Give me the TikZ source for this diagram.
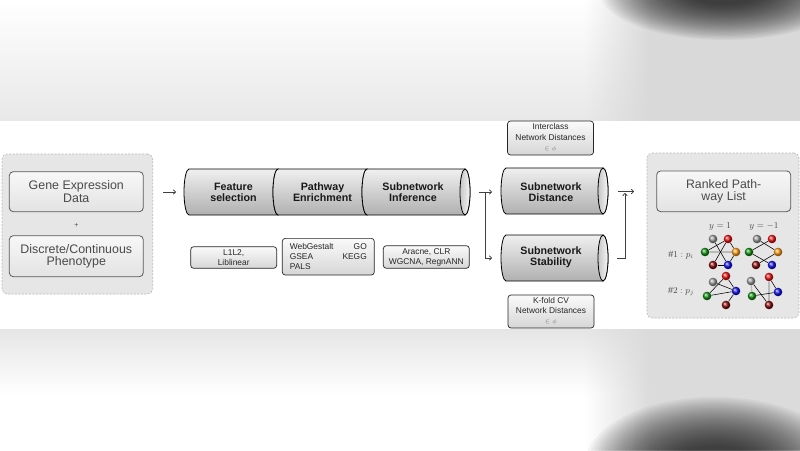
\documentclass[tikz,border=0pt]{standalone}
\usepackage{fontspec}
\setmainfont{Liberation Sans}
\usetikzlibrary{arrows.meta,fadings}
\definecolor{txtgray}{HTML}{4A4A4A}
\definecolor{panelfill}{HTML}{E6E6E6}
\definecolor{nred}{HTML}{F01010}
\definecolor{ngreen}{HTML}{109010}
\definecolor{norange}{HTML}{FF9A10}
\definecolor{ndred}{HTML}{8A0A0A}
\definecolor{nblue}{HTML}{1010F0}
\definecolor{ngray}{HTML}{9A9A9A}
\tikzfading[name=lrfade, left color=transparent!100, right color=transparent!0]
\pgfdeclarelayer{bg}
\pgfdeclarelayer{edgelayer}
\pgfsetlayers{bg,edgelayer,main}
\newcommand{\mycylseg}[3]{%
 \path[cylbody] (#1,#3-23) arc[start angle=270,end angle=90,x radius=5,y radius=23]
   -- (#2,#3+23) arc[start angle=90,end angle=270,x radius=5,y radius=23] -- cycle;}
\newcommand{\mycylend}[3]{%
 \path[cylbody] (#1,#3-23) arc[start angle=270,end angle=90,x radius=5,y radius=23]
   -- (#2,#3+23) arc[start angle=90,end angle=-90,x radius=5,y radius=23] -- cycle;
 \path[cylcap] (#2,#3) ellipse[x radius=5,y radius=23];}
\begin{document}
\begin{tikzpicture}[x=1pt,y=-1pt,
 panel/.style={draw=gray!55, dash pattern=on 2pt off 1.5pt, fill=panelfill, rounded corners=5pt, line width=0.6pt, inner sep=0pt},
 bigbox/.style={draw=black!65, line width=0.8pt, rounded corners=4pt, top color=gray!6, bottom color=gray!22, text=txtgray, align=center, inner sep=0pt},
 sbox/.style={draw=black!85, line width=0.7pt, rounded corners=3pt, top color=gray!4, bottom color=gray!32, text=black!85, align=center, inner sep=0pt, font=\fontsize{8.4}{10}\selectfont},
 cylbody/.style={draw=black, line width=0.8pt, top color=gray!12, bottom color=gray!62},
 cylcap/.style={draw=black, line width=0.8pt, left color=gray!45, right color=gray!6},
 cyltext/.style={font=\fontsize{10.7}{10.8}\selectfont\bfseries, text=black!90, align=center},
 arr/.style={draw=black!75, line width=0.75pt, -{To[length=3pt,width=5pt]}},
 gn/.style={circle, inner sep=0pt, minimum size=8.6pt, ball color=#1, font=\fontsize{3}{3}\selectfont, text=white!80!gray},
 ge/.style={draw=black, line width=0.55pt},
 gg/.style={draw=gray!55, line width=1.4pt},
 mathlbl/.style={text=txtgray, font=\fontsize{9}{9}\selectfont}
]
\useasboundingbox (0,0) rectangle (800,450);
\begin{pgfonlayer}{bg}
 \fill[white] (0,0) rectangle (800,450);
 % blurred bands
 \shade[top color=white, middle color=white, bottom color=gray!18] (0,0) rectangle (800,121);
 \fill[gray!30, path fading=lrfade] (585,0) rectangle (650,121);
 \fill[gray!30] (650,0) rectangle (800,121);
 \foreach \k in {0,...,27} {\fill[black, opacity=0.04] (725,-8) ellipse[x radius={125-3.25*\k}, y radius={48-1.3*\k}];}
 \shade[top color=gray!20, bottom color=white] (0,329) rectangle (800,395);
 \fill[gray!28, path fading=lrfade] (585,329) rectangle (650,450);
 \fill[gray!28] (650,329) rectangle (800,450);
 \foreach \k in {0,...,27} {\fill[black, opacity=0.04] (715,465) ellipse[x radius={130-3.25*\k}, y radius={68-1.8*\k}];}
 \fill[white] (0,121) rectangle (800,329);
 % panels
 \node[panel, minimum width=150.7pt, minimum height=140pt] (inpanel) at (77.35,224) {};
 \node[panel, minimum width=152pt, minimum height=165pt] (outpanel) at (723,235.5) {};
\end{pgfonlayer}

% input panel
\node[bigbox, minimum width=134pt, minimum height=40pt, font=\fontsize{12.4}{13.3}\selectfont] (gene) at (76.3,191.7) {Gene Expression\\Data};
\node[font=\fontsize{7}{7}\selectfont, text=txtgray] (plus) at (76.3,225.5) {+};
\node[bigbox, minimum width=134pt, minimum height=41pt, font=\fontsize{12.4}{11.6}\selectfont] (pheno) at (76.3,256.2) {Discrete/Continuous\\Phenotype};

% pipeline
\mycylseg{189}{278}{192}
\mycylseg{278}{367}{192}
\mycylend{367}{465}{192}
\node[cyltext] (fs) at (233.5,192) {Feature\\selection};
\node[cyltext] (pe) at (322.5,192) {Pathway\\Enrichment};
\node[cyltext] (si) at (413,192) {Subnetwork\\Inference};

\node[sbox, minimum width=86pt, minimum height=21.6pt] (l1) at (233.7,257.5) {L1L2,\\Liblinear};
\node[sbox, minimum width=92pt, minimum height=36.7pt, text width=77pt, align=left] (wg) at (328.3,256.7) {WebGestalt\hfill GO\\GSEA\hfill KEGG\\PALS};
\node[sbox, minimum width=86pt, minimum height=22.6pt] (ar) at (426.3,257) {Aracne, CLR\\WGCNA, RegnANN};

% evaluation cylinders
\mycylend{506}{603}{191}
\mycylend{506}{603}{258}
\node[cyltext] (sd) at (551,192) {Subnetwork\\Distance};
\node[cyltext] (ss) at (551,257) {Subnetwork\\Stability};

\node[sbox, minimum width=86pt, minimum height=34pt, font=\fontsize{8.4}{10.5}\selectfont] (ic) at (550.5,138) {Interclass\\Network Distances\\{\fontsize{6}{6}\selectfont\color{gray}$\in\phi$}};
\node[sbox, minimum width=86pt, minimum height=33pt, font=\fontsize{8.4}{10}\selectfont] (kf) at (551,311.5) {K-fold CV\\Network Distances\\{\fontsize{6}{6}\selectfont\color{gray}$\in\phi$}};

% connectors
\coordinate (a1s) at (163,192);
\coordinate (a1e) at (176,192);
\draw[arr] (a1s) -- (a1e);
\coordinate (m1) at (479,192);
\coordinate (mj) at (485,192);
\coordinate (m2) at (492,192);
\coordinate (m3) at (492,258);
\draw[arr] (m1) -- (m2);
\draw[arr] (mj) |- (m3);
\coordinate (r1) at (618,191.5);
\coordinate (r2) at (634,191.5);
\coordinate (r3) at (617,258);
\coordinate (r4) at (625,193);
\draw[arr] (r1) -- (r2);
\draw[arr] (r3) -| (r4);

% output panel
\node[bigbox, minimum width=134pt, minimum height=40.7pt, font=\fontsize{12.3}{11.6}\selectfont] (ranked) at (723.7,191.3) {Ranked Path-\\way List};
\node[mathlbl] (ly1) at (720,226) {$y=1$};
\node[mathlbl] (ly2) at (764,226) {$y=-1$};
\node[mathlbl] (lp1) at (681,255) {$\#1:p_i$};
\node[mathlbl] (lp2) at (681,292) {$\#2:p_j$};

% graph 1
\node[gn=ngray] (aA) at (713,239) {\textit{v}\textsubscript{1}};
\node[gn=nred] (aB) at (728,239) {\textit{v}\textsubscript{2}};
\node[gn=ngreen] (aC) at (705,252) {\textit{v}\textsubscript{3}};
\node[gn=norange] (aD) at (736,252) {\textit{v}\textsubscript{4}};
\node[gn=ndred] (aE) at (713,265) {\textit{v}\textsubscript{5}};
\node[gn=nblue] (aF) at (728,265) {\textit{v}\textsubscript{6}};
% graph 2
\node[gn=ngray] (bA) at (757,239) {\textit{v}\textsubscript{1}};
\node[gn=nred] (bB) at (772,239) {\textit{v}\textsubscript{2}};
\node[gn=ngreen] (bC) at (749,252) {\textit{v}\textsubscript{3}};
\node[gn=norange] (bD) at (778,252) {\textit{v}\textsubscript{4}};
\node[gn=ndred] (bE) at (756,265) {\textit{v}\textsubscript{5}};
\node[gn=nblue] (bF) at (772,265) {\textit{v}\textsubscript{6}};
% graph 3
\node[gn=ngray] (cA) at (713,282) {\textit{v}\textsubscript{1}};
\node[gn=nred] (cB) at (726,276) {\textit{v}\textsubscript{2}};
\node[gn=nblue] (cF) at (736,291) {\textit{v}\textsubscript{6}};
\node[gn=ngreen] (cC) at (707,296) {\textit{v}\textsubscript{3}};
\node[gn=ndred] (cE) at (726,305) {\textit{v}\textsubscript{5}};
% graph 4
\node[gn=ngray] (dA) at (751,281) {\textit{v}\textsubscript{1}};
\node[gn=nred] (dB) at (769,277) {\textit{v}\textsubscript{2}};
\node[gn=nblue] (dF) at (778,292) {\textit{v}\textsubscript{6}};
\node[gn=ngreen] (dC) at (752,296) {\textit{v}\textsubscript{3}};
\node[gn=ndred] (dE) at (769,305) {\textit{v}\textsubscript{5}};

\begin{pgfonlayer}{edgelayer}
 \draw[gg] (aC) -- (aD);
 \draw[ge] (aA) -- (aF);
 \draw[ge] (aB) -- (aC);
 \draw[ge] (aB) -- (aE);
 \draw[ge] (aB) -- (aD);
 \draw[ge] (aD) -- (aF);
 \draw[ge] (aE) -- (aF);
 \draw[ge] (bA) -- (bD);
 \draw[ge] (bB) -- (bC);
 \draw[ge] (bC) -- (bF);
 \draw[ge] (bD) -- (bE);
 \draw[ge] (cA) -- (cF);
 \draw[ge] (cB) -- (cC);
 \draw[ge] (cB) -- (cF);
 \draw[ge] (cC) -- (cF);
 \draw[ge] (cF) -- (cE);
 \draw[gg] (dA) -- (dC);
 \draw[gg] (dB) -- (dE);
 \draw[ge] (dA) -- (dE);
 \draw[ge] (dB) -- (dF);
 \draw[ge] (dC) -- (dF);
\end{pgfonlayer}
\end{tikzpicture}
\end{document}
